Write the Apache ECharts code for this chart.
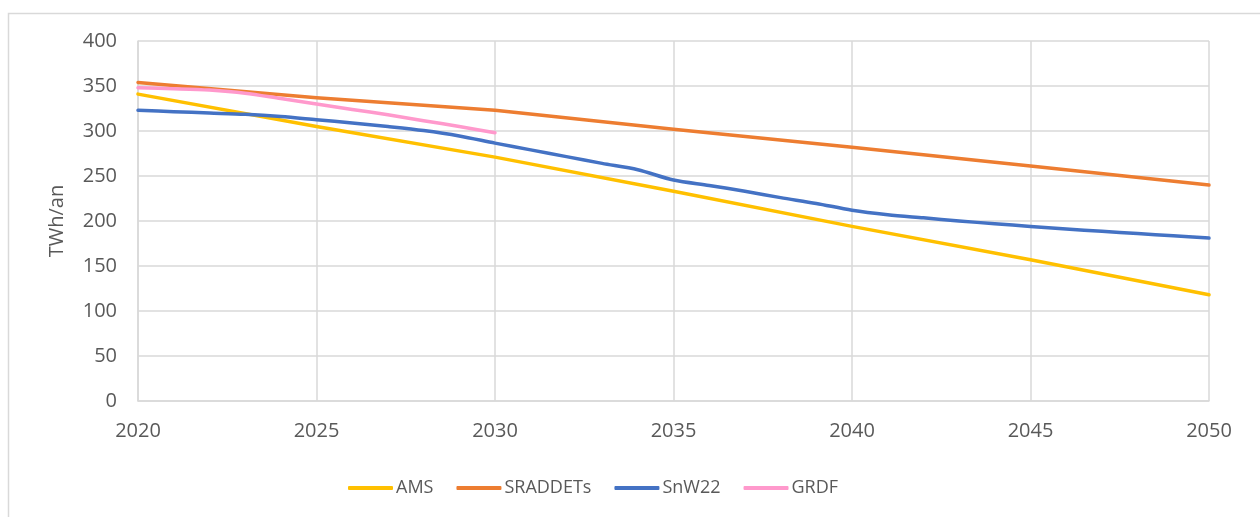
<!DOCTYPE html>
<html>
<head>
<meta charset="utf-8">
<script src="https://cdn.jsdelivr.net/npm/echarts@6/dist/echarts.min.js"></script>
<style>
  html, body { margin: 0; padding: 0; background: #ffffff; }
  #chart { width: 1260px; height: 517px; }
</style>
</head>
<body>
<div id="chart"></div>
<script>
// Consommation annuelle (TWh/an) selon les scénarios, 2020-2050
const seriesNames = ['AMS', 'SRADDETs', 'SnW22', 'GRDF'];

const amsYears = [2020, 2025, 2030, 2035, 2040, 2045, 2050];
const amsValues = [341, 305, 271, 233, 194, 157, 118];

const sraddetsYears = [2020, 2025, 2030, 2035, 2040, 2045, 2050];
const sraddetsValues = [354, 337, 323, 302, 282, 261, 240];

const snwYears = [2020, 2021, 2022, 2023, 2024, 2025, 2026, 2027, 2028, 2029,
                  2030, 2031, 2032, 2033, 2034, 2035, 2036, 2037, 2038, 2039,
                  2040, 2041, 2042, 2043, 2044, 2045, 2046, 2047, 2048, 2049, 2050];
const snwValues = [323, 321.5, 320, 318.5, 316, 312.5, 309, 305, 300.5, 294.5,
                   286.5, 279, 271.5, 264, 257, 245.5, 239.5, 233, 226, 219.5,
                   212, 207, 203.5, 200, 197, 194, 191, 188.5, 186, 183.5, 181];

const grdfYears = [2020, 2021, 2022, 2023, 2024, 2025, 2026, 2027, 2028, 2029, 2030];
const grdfValues = [348, 347, 345.5, 342, 336, 330, 324, 318, 311.5, 305, 298];

const colors = ['#FFC000', '#ED7D31', '#4472C4', '#FF99CC'];
const font = '"Open Sans", "Noto Sans", sans-serif';
const textColor = '#595959';
const gridColor = '#D9D9D9';

function pairs(xs, ys) { return xs.map((x, i) => [x, ys[i]]); }

const chart = echarts.init(document.getElementById('chart'), null, { renderer: 'canvas' });

function line(name, data, color, smooth) {
  return {
    name: name,
    type: 'line',
    data: data,
    showSymbol: false,
    smooth: smooth,
    lineStyle: { color: color, width: 3.5, cap: 'round', join: 'round' },
    itemStyle: { color: color },
    emphasis: { disabled: true }
  };
}

chart.setOption({
  animation: false,
  backgroundColor: '#ffffff',
  graphic: [{
    type: 'rect',
    left: 6, top: 11,
    shape: { width: 1400, height: 700 },
    style: { fill: 'none', stroke: gridColor, lineWidth: 1.5 },
    silent: true, z: -1
  }],
  grid: { left: 138, right: 51, top: 41, bottom: 116 },
  legend: {
    data: seriesNames,
    left: 343,
    top: 474,
    itemWidth: 45,
    itemHeight: 4,
    itemGap: 23,
    icon: 'roundRect',
    textStyle: { fontFamily: font, fontSize: 18, color: textColor, padding: [0, 0, 0, -2] }
  },
  xAxis: {
    type: 'value',
    min: 2020, max: 2050, interval: 5,
    axisLine: { show: true, lineStyle: { color: gridColor, width: 1.5 } },
    axisTick: { show: false },
    splitLine: { show: true, lineStyle: { color: gridColor, width: 1.5 } },
    axisLabel: {
      fontFamily: font, fontSize: 20, color: textColor, margin: 20,
      formatter: v => String(v)
    }
  },
  yAxis: {
    type: 'value',
    min: 0, max: 400, interval: 50,
    name: 'TWh/an',
    nameLocation: 'middle',
    nameGap: 71,
    nameTextStyle: { fontFamily: font, fontSize: 20, color: textColor },
    axisLine: { show: true, lineStyle: { color: gridColor, width: 1.5 } },
    axisTick: { show: false },
    splitLine: { show: true, lineStyle: { color: gridColor, width: 1.5 } },
    axisLabel: { fontFamily: font, fontSize: 20, color: textColor, margin: 21 }
  },
  series: [
    line(seriesNames[0], pairs(amsYears, amsValues), colors[0], false),
    line(seriesNames[1], pairs(sraddetsYears, sraddetsValues), colors[1], false),
    line(seriesNames[2], pairs(snwYears, snwValues), colors[2], 0.3),
    line(seriesNames[3], pairs(grdfYears, grdfValues), colors[3], 0.3)
  ]
});
</script>
</body>
</html>
